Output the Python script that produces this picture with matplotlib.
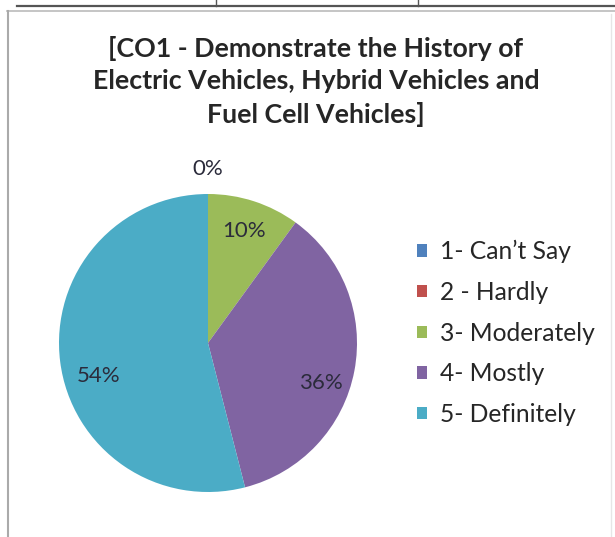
import matplotlib
matplotlib.use("Agg")
import matplotlib.pyplot as plt
from matplotlib.patches import Patch
from matplotlib.lines import Line2D

plt.rcParams['font.family'] = ['Lato', 'DejaVu Sans']

# survey answers (share in %)
categories = ["1- Can\u2019t Say", "2 - Hardly", "3- Moderately", "4- Mostly", "5- Definitely"]
values = [0, 0, 10, 36, 54]
colors = ["#4F81BD", "#C0504D", "#9BBB59", "#8064A2", "#4BACC6"]
title = "[CO1 - Demonstrate the History of\nElectric Vehicles, Hybrid Vehicles and\nFuel Cell Vehicles]"

W, H = 615, 537
fig = plt.figure(figsize=(W / 100, H / 100), dpi=100)

# page / chart frame lines from the document screenshot
def fline(x0, y0, x1, y1, **kw):
    fig.add_artist(Line2D([x0 / W, x1 / W], [1 - y0 / H, 1 - y1 / H],
                          transform=fig.transFigure, **kw))

fline(17, 6, 615, 6, color="#555555", lw=1.6)
fline(216, 0, 216, 6, color="#555555", lw=1.0)
fline(418, 0, 418, 6, color="#555555", lw=1.0)
fline(7, 11, 615, 11, color="#bbbbbb", lw=1.2)
fline(8, 11, 8, 537, color="#aaaaaa", lw=1.5)
fline(611, 14, 611, 537, color="#e6e6e6", lw=1.0)

fig.text(316 / W, 1 - 81.5 / H, title, ha="center", va="center",
         fontsize=19.3, fontweight="bold", color="#262626", linespacing=1.42)

# pie
cx, cy, r = 208, 343, 149
ax = fig.add_axes([(cx - r) / W, 1 - (cy + r) / H, 2 * r / W, 2 * r / H])
wedges, texts, autotexts = ax.pie(values, colors=colors, startangle=90, counterclock=False,
                                  autopct=lambda p: "%d%%" % round(p), pctdistance=0.79,
                                  wedgeprops=dict(linewidth=0))
ax.set_xlim(-1, 1)
ax.set_ylim(-1, 1)
for t in autotexts:
    t.set_fontsize(16)
    t.set_color("#2b2b3b")
# Excel sets the two big labels a little lower
for i in (3, 4):
    x, y = autotexts[i].get_position()
    autotexts[i].set_position((x + (0.05 if i == 4 else -0.02), y - 0.12))
# zero slices: one label outside at the top
zero_idx = [i for i, v in enumerate(values) if v == 0]
for k, i in enumerate(zero_idx):
    if k == 0:
        autotexts[i].set_visible(False)
    else:
        autotexts[i].set_position((0.0, 1.17))

handles = [Patch(facecolor=c, edgecolor="none") for c in colors]
fig.legend(handles, categories, loc="center left", bbox_to_anchor=(417 / W, 1 - 333 / H),
           frameon=False, fontsize=17.7, handlelength=0.4, handleheight=0.4,
           handletextpad=0.55, labelspacing=0.72, borderpad=0, borderaxespad=0,
           labelcolor="#262626")

fig.savefig("out.png", dpi=100, facecolor="white")
